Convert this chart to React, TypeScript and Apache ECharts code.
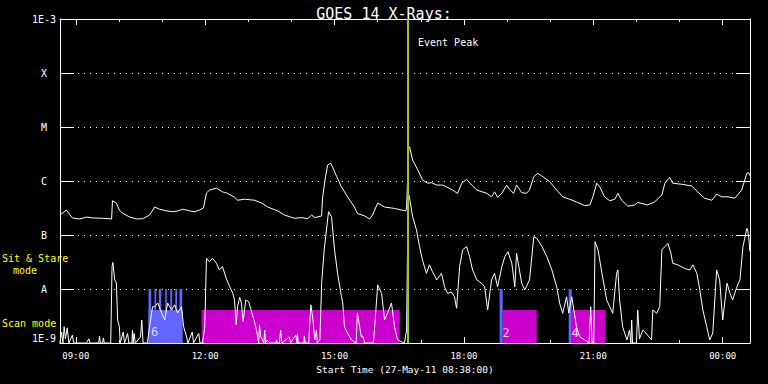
import { useEffect, useRef } from "react";
import * as echarts from "echarts";

const START_HOUR = 8 + 38 / 60;
const END_HOUR = START_HOUR + 16;
const EVENT_PEAK_HOUR = 16.705;
const FLOOR = 1e-9;
const SCAN_TOP = 4.1e-9;
const STARE_TOP = 1e-8;

const yTickLabels = ["1E-9", "A", "B", "C", "M", "X", "1E-3"];
const xLabelHours = [9, 12, 15, 18, 21, 24];
const xMinorHours = [9, 10, 11, 12, 13, 14, 15, 16, 17, 18, 19, 20, 21, 22, 23, 24];

// long channel (upper curve): [hour, flux W/m^2]
const longChannel: [number, number][] = [
  [8.63, 2.34e-7], [8.78, 2.9e-7], [8.92, 2.07e-7], [9.09, 1.98e-7], [9.25, 2.15e-7], [9.39, 2.07e-7],
  [9.62, 2.04e-7], [9.83, 1.98e-7], [9.85, 4.3e-7], [9.94, 3.9e-7], [10.01, 2.9e-7], [10.08, 2.55e-7],
  [10.25, 2.15e-7], [10.41, 1.98e-7], [10.55, 2.0e-7], [10.71, 2.34e-7], [10.83, 3.3e-7], [10.94, 3.0e-7],
  [11.10, 2.8e-7], [11.24, 2.7e-7], [11.36, 2.78e-7], [11.48, 3.0e-7], [11.64, 2.8e-7], [11.75, 2.7e-7],
  [11.87, 2.9e-7], [11.96, 3.16e-7], [12.03, 6.0e-7], [12.10, 6.8e-7], [12.26, 7.4e-7], [12.40, 6.3e-7],
  [12.50, 6.0e-7], [12.68, 5.0e-7], [12.75, 4.4e-7], [12.91, 4.6e-7], [13.15, 4.4e-7], [13.31, 3.9e-7],
  [13.45, 3.3e-7], [13.68, 2.8e-7], [13.84, 2.34e-7], [14.07, 2.04e-7], [14.24, 2.1e-7], [14.37, 2.0e-7],
  [14.47, 2.34e-7], [14.54, 2.1e-7], [14.70, 2.25e-7], [14.72, 4.8e-7], [14.79, 1.2e-6], [14.84, 1.98e-6],
  [14.91, 2.13e-6], [14.95, 1.84e-6], [15.05, 1.2e-6], [15.16, 7.8e-7], [15.30, 5.1e-7], [15.46, 3.3e-7],
  [15.53, 2.5e-7], [15.70, 2.25e-7], [15.81, 1.98e-7], [15.88, 2.34e-7], [16.00, 3.9e-7], [16.16, 3.3e-7],
  [16.39, 3.1e-7], [16.55, 2.9e-7], [16.65, 2.8e-7], [16.67, 3.16e-7], [16.72, 4.08e-6], [16.74, 4.31e-6],
  [16.81, 2.45e-6], [16.93, 1.6e-6], [17.04, 1.04e-6], [17.16, 9.1e-7], [17.25, 9.3e-7], [17.37, 8.4e-7],
  [17.51, 8.4e-7], [17.74, 6.8e-7], [17.85, 5.9e-7], [17.95, 9.1e-7], [18.06, 1.07e-6], [18.18, 8.4e-7],
  [18.30, 6.8e-7], [18.53, 5.9e-7], [18.64, 5.1e-7], [18.71, 6.3e-7], [18.78, 5.0e-7], [18.88, 5.9e-7],
  [18.99, 8.4e-7], [19.06, 7.0e-7], [19.15, 5.9e-7], [19.22, 8.4e-7], [19.34, 6.1e-7], [19.45, 5.9e-7],
  [19.52, 6.8e-7], [19.62, 1.2e-6], [19.71, 1.39e-6], [19.83, 1.2e-6], [19.99, 9.7e-7], [20.15, 6.8e-7],
  [20.29, 5.1e-7], [20.45, 4.6e-7], [20.61, 4.1e-7], [20.80, 3.5e-7], [20.92, 3.6e-7], [20.99, 5.1e-7],
  [21.08, 9.1e-7], [21.15, 7.8e-7], [21.26, 5.1e-7], [21.38, 4.3e-7], [21.50, 4.6e-7], [21.57, 5.9e-7],
  [21.66, 4.4e-7], [21.80, 3.4e-7], [21.96, 3.6e-7], [22.03, 4.0e-7], [22.26, 3.6e-7], [22.42, 4.1e-7],
  [22.59, 5.5e-7], [22.66, 9.1e-7], [22.77, 1.17e-6], [22.84, 9.1e-7], [23.05, 8.7e-7], [23.28, 8.1e-7],
  [23.42, 6.3e-7], [23.58, 4.8e-7], [23.75, 4.4e-7], [23.86, 5.7e-7], [23.98, 5.1e-7], [24.12, 5.1e-7],
  [24.28, 4.8e-7], [24.44, 6.8e-7], [24.56, 1.39e-6], [24.60, 1.43e-6], [24.63, 1.25e-6],
];

// short channel (lower curve): [hour, flux W/m^2]
const shortChannel: [number, number][] = [
  [8.63, 1.0e-9], [8.67, 1.6e-9], [8.70, 1.0e-9], [8.73, 2.0e-9], [8.76, 1.2e-9], [8.80, 1.9e-9],
  [8.84, 1.0e-9], [8.92, 1.4e-9], [8.95, 1.0e-9], [9.25, 1.0e-9], [9.30, 1.2e-9], [9.33, 1.0e-9],
  [9.53, 1.0e-9], [9.55, 1.35e-9], [9.57, 1.0e-9], [9.62, 1.0e-9], [9.64, 1.24e-9], [9.66, 1.0e-9],
  [9.81, 1.0e-9], [9.84, 2.6e-8], [9.86, 3.1e-8], [9.90, 1.5e-8], [9.94, 1.29e-8], [9.97, 2.67e-9],
  [10.01, 2.0e-9], [10.03, 1.0e-9], [10.10, 1.6e-9], [10.13, 1.0e-9], [10.20, 1.5e-9], [10.23, 1.0e-9],
  [10.30, 1.0e-9], [10.315, 1.74e-9], [10.33, 1.0e-9],
  [10.35, 1.5e-9], [10.38, 1.0e-9], [10.50, 1.3e-9], [10.53, 2.67e-9], [10.56, 1.0e-9], [10.66, 1.0e-9],
  [10.71, 2.0e-9], [10.78, 4.7e-9], [10.83, 4.7e-9], [10.90, 5.5e-9], [10.99, 3.6e-9], [11.06, 2.67e-9],
  [11.13, 5.5e-9], [11.22, 4.1e-9], [11.29, 5.1e-9], [11.36, 3.6e-9], [11.45, 4.7e-9], [11.50, 2.0e-9],
  [11.57, 1.29e-9], [11.60, 1.0e-9], [11.70, 1.6e-9], [11.73, 1.0e-9], [11.85, 1.5e-9], [11.88, 1.0e-9],
  [11.94, 1.0e-9], [11.99, 2.0e-9], [12.03, 3.7e-8], [12.10, 3.2e-8], [12.17, 3.7e-8], [12.26, 3.0e-8],
  [12.33, 2.25e-8], [12.40, 2.6e-8], [12.50, 1.47e-8], [12.57, 1.1e-8], [12.64, 8.3e-9], [12.68, 6.25e-9],
  [12.72, 2.2e-9], [12.75, 4.7e-9], [12.80, 7.0e-9], [12.84, 5.5e-9], [12.88, 2.5e-9], [12.94, 6.25e-9],
  [13.01, 5.8e-9], [13.13, 2.67e-9], [13.19, 1.74e-9],
  [13.24, 1.0e-9], [13.26, 2.15e-9], [13.29, 1.3e-9], [13.36, 1.0e-9], [13.38, 1.74e-9], [13.40, 1.0e-9],
  [13.43, 1.14e-9], [13.50, 1.0e-9], [13.64, 1.0e-9], [13.655, 1.14e-9], [13.67, 1.0e-9],
  [13.72, 1.0e-9], [13.75, 1.74e-9], [13.78, 1.0e-9],
  [13.95, 1.3e-9], [13.98, 1.0e-9], [14.10, 1.4e-9], [14.13, 1.0e-9], [14.14, 1.47e-9], [14.16, 1.0e-9],
  [14.29, 1.0e-9], [14.30, 1.35e-9], [14.32, 1.0e-9],
  [14.40, 1.0e-9], [14.45, 5.1e-9],
  [14.50, 2.67e-9], [14.54, 1.14e-9], [14.58, 1.74e-9], [14.60, 1.0e-9], [14.66, 1.14e-9], [14.70, 1.28e-8],
  [14.76, 5.3e-8], [14.86, 2.7e-7],
  [14.93, 2.18e-7], [15.00, 5.3e-8], [15.07, 1.95e-8], [15.16, 7.2e-9], [15.19, 5.5e-9], [15.23, 2.0e-9],
  [15.30, 1.53e-9], [15.39, 1.14e-9], [15.50, 1.0e-9], [15.53, 3.6e-9], [15.62, 1.3e-9], [15.65, 1.35e-9],
  [15.70, 1.0e-9],
  [15.90, 1.0e-9], [15.93, 2.0e-9], [16.00, 1.19e-8], [16.09, 8.3e-9], [16.16, 2.67e-9], [16.23, 3.6e-9],
  [16.32, 5.5e-9], [16.39, 2.0e-9], [16.46, 1.14e-9], [16.62, 1.0e-9], [16.67, 1.74e-9], [16.70, 2.0e-7],
  [16.72, 5.5e-7], [16.74, 4.8e-7], [16.81, 2.18e-7], [16.90, 1.24e-7], [16.97, 6.1e-8], [17.04, 3.4e-8],
  [17.13, 1.95e-8], [17.20, 2.8e-8], [17.27, 2.1e-8], [17.37, 1.47e-8], [17.48, 1.95e-8], [17.55, 1.1e-8],
  [17.62, 8.3e-9], [17.71, 8.8e-9], [17.78, 7.2e-9], [17.83, 4.4e-9], [17.90, 2.6e-8], [17.97, 5.3e-8],
  [18.06, 6.1e-8], [18.13, 4.0e-8], [18.20, 2.25e-8], [18.30, 1.47e-8], [18.41, 1.28e-8], [18.48, 1.1e-8],
  [18.55, 4.1e-9], [18.64, 1.47e-8], [18.71, 1.95e-8], [18.78, 1.1e-8], [18.88, 2.6e-8], [18.95, 4.0e-8],
  [19.02, 4.9e-8], [19.11, 3.0e-8], [19.18, 1.1e-8], [19.22, 4.6e-8], [19.34, 1.28e-8], [19.41, 9.6e-9],
  [19.52, 1.47e-8], [19.62, 9.3e-8], [19.69, 8.7e-8], [19.81, 6.1e-8], [19.92, 4.0e-8], [20.04, 2.25e-8],
  [20.15, 1.1e-8], [20.22, 5.45e-9], [20.29, 3.55e-9], [20.38, 7.2e-9], [20.43, 3.6e-9], [20.50, 7.2e-9],
  [20.61, 2.0e-9], [20.68, 1.31e-9], [20.80, 1.14e-9], [20.90, 1.0e-9], [20.94, 4.7e-9], [20.97, 1.0e-9],
  [21.01, 1.0e-9], [21.04, 7.5e-8], [21.11, 5.3e-8], [21.20, 1.95e-8], [21.31, 6.25e-9], [21.38, 4.7e-9],
  [21.45, 3.55e-9], [21.54, 1.95e-8], [21.57, 2.25e-8], [21.61, 6.25e-9], [21.68, 2.0e-9], [21.78, 1.14e-9],
  [21.84, 1.74e-9], [21.87, 1.0e-9], [21.89, 2.67e-9], [21.91, 1.0e-9], [22.00, 1.0e-9], [22.03, 4.1e-9],
  [22.07, 1.2e-9], [22.15, 1.74e-9],
  [22.19, 1.62e-9], [22.35, 1.14e-9], [22.38, 4.1e-9], [22.47, 3.55e-9], [22.54, 4.7e-9], [22.59, 5.3e-8],
  [22.66, 6.1e-8], [22.73, 7.0e-8], [22.80, 4.6e-8], [22.84, 3.0e-8], [22.96, 2.8e-8], [23.12, 2.4e-8],
  [23.24, 2.25e-8], [23.31, 2.8e-8], [23.40, 1.95e-8], [23.47, 9.6e-9], [23.54, 4.1e-9], [23.63, 2.0e-9],
  [23.70, 1.14e-9], [23.77, 1.53e-9], [23.86, 2.25e-8], [23.93, 1.47e-8], [24.00, 2.67e-9], [24.10, 1.28e-8],
  [24.17, 8.3e-9], [24.23, 6.25e-9], [24.33, 1.1e-8], [24.40, 1.47e-8], [24.47, 6.1e-8], [24.56, 1.33e-7],
  [24.58, 1.24e-7], [24.61, 8.1e-8], [24.63, 5.0e-8],
];

// SXI scan-mode intervals (magenta) [start hour, end hour]
const scanBlocks: [number, number][] = [
  [11.916, 16.508], [18.898, 19.687], [20.498, 21.287],
];
// sit & stare fill (blue, low) and bars (blue, tall)
const stareFill: [number, number][] = [[10.686, 11.475]];
const stareBars: [number, number][] = [
  [10.686, 10.749], [10.825, 10.865], [10.925, 10.981], [11.074, 11.111], [11.19, 11.236],
  [11.306, 11.352], [11.405, 11.468], [18.828, 18.898], [20.429, 20.498],
];
// sequence glyphs [hour, flux, text]
const sequenceMarks: [number, number, string][] = [
  [10.826, 1.6e-9, "6"], [18.98, 1.53e-9, "2"], [20.575, 1.53e-9, "4"],
];

const MONO = "'DejaVu Sans Mono', monospace";

const rectRender = (color: string) => (params: any, api: any) => {
  const s = api.value(0);
  const e = api.value(1);
  const top = api.value(2);
  const p0 = api.coord([s, top]);
  const p1 = api.coord([e, FLOOR]);
  return {
    type: "rect",
    shape: { x: p0[0], y: p0[1], width: p1[0] - p0[0], height: p1[1] - p0[1] },
    style: { fill: color },
  };
};

const fmtHour = (v: number) => {
  const h = Math.round(v) % 24;
  return (h < 10 ? "0" : "") + h + ":00";
};

export default function App() {
  const ref = useRef<HTMLDivElement>(null);
  useEffect(() => {
    if (!ref.current) return;
    const chart = echarts.init(ref.current, null, { renderer: "svg" });
    const white = "#ffffff";
    const baseX = {
      type: "value",
      min: START_HOUR,
      max: END_HOUR,
      splitLine: { show: false },
    };
    const baseY = {
      type: "log",
      logBase: 10,
      min: 1e-9,
      max: 1e-3,
    };
    chart.setOption({
      animation: false,
      backgroundColor: "#000000",
      title: {
        text: "GOES 14 X-Rays:",
        left: "center",
        top: 1,
        textStyle: { color: white, fontFamily: MONO, fontSize: 15, fontWeight: "normal" },
      },
      grid: { left: 60, right: 18, top: 19, bottom: 41 },
      xAxis: [
        {
          ...baseX,
          position: "bottom",
          axisLine: { show: true, lineStyle: { color: white, width: 1 } },
          axisTick: { show: true, inside: true, length: 6, customValues: xLabelHours, lineStyle: { color: white } },
          axisLabel: {
            show: true, customValues: xLabelHours, formatter: fmtHour, color: white,
            fontFamily: MONO, fontSize: 9, margin: 8,
          },
          name: "Start Time (27-May-11 08:38:00)",
          nameLocation: "middle",
          nameGap: 20,
          nameTextStyle: { color: white, fontFamily: MONO, fontSize: 9.5 },
        },
        {
          ...baseX,
          position: "bottom",
          axisLine: { show: false },
          axisTick: { show: true, inside: true, length: 3, customValues: xMinorHours, lineStyle: { color: white } },
          axisLabel: { show: false, customValues: xMinorHours },
        },
        {
          ...baseX,
          position: "top",
          axisLine: { show: true, lineStyle: { color: white, width: 1 } },
          axisTick: { show: true, inside: true, length: 6, customValues: xLabelHours, lineStyle: { color: white } },
          axisLabel: { show: false, customValues: xLabelHours },
        },
        {
          ...baseX,
          position: "top",
          axisLine: { show: false },
          axisTick: { show: true, inside: true, length: 3, customValues: xMinorHours, lineStyle: { color: white } },
          axisLabel: { show: false, customValues: xMinorHours },
        },
      ],
      yAxis: [
        {
          ...baseY,
          position: "left",
          axisLine: { show: true, lineStyle: { color: white, width: 1 } },
          axisTick: { show: true, inside: true, length: 14, lineStyle: { color: white } },
          axisLabel: {
            color: white,
            fontFamily: MONO,
            fontSize: 10,
            align: "center",
            margin: 16,
            verticalAlignMinLabel: "bottom",
            verticalAlignMaxLabel: "top",
            formatter: (v: number) => yTickLabels[Math.round(Math.log10(v)) + 9] ?? "",
          },
          splitLine: { show: true, lineStyle: { color: white, width: 1, type: [1, 5] } },
        },
        {
          ...baseY,
          position: "right",
          axisLine: { show: true, lineStyle: { color: white, width: 1 } },
          axisTick: { show: true, inside: true, length: 14, lineStyle: { color: white } },
          axisLabel: { show: false },
          splitLine: { show: false },
        },
      ],
      graphic: [
        { type: "text", left: 418, top: 37, style: { text: "Event Peak", fill: white, font: `10px ${MONO}` } },
        { type: "text", left: 2, top: 253, style: { text: "Sit & Stare", fill: "#ffff00", font: `10px ${MONO}` } },
        { type: "text", left: 13, top: 265, style: { text: "mode", fill: "#ffff00", font: `10px ${MONO}` } },
        { type: "text", left: 2, top: 318, style: { text: "Scan mode", fill: "#ffff00", font: `10px ${MONO}` } },
      ],
      series: [
        {
          type: "custom",
          name: "scan",
          xAxisIndex: 0,
          yAxisIndex: 0,
          z: 1,
          silent: true,
          renderItem: rectRender("#cc00cc"),
          encode: { x: [0, 1], y: 2 },
          data: scanBlocks.map(([s, e]) => [s, e, SCAN_TOP]),
        },
        {
          type: "custom",
          name: "stare",
          xAxisIndex: 0,
          yAxisIndex: 0,
          z: 1,
          silent: true,
          renderItem: rectRender("#6464ff"),
          encode: { x: [0, 1], y: 2 },
          data: [
            ...stareFill.map(([s, e]) => [s, e, SCAN_TOP]),
            ...stareBars.map(([s, e]) => [s, e, STARE_TOP]),
          ],
        },
        {
          type: "line",
          name: "long",
          xAxisIndex: 0,
          yAxisIndex: 0,
          z: 3,
          showSymbol: false,
          symbol: "none",
          lineStyle: { color: white, width: 1 },
          data: longChannel,
          markLine: {
            silent: true,
            symbol: ["none", "none"],
            label: { show: false },
            lineStyle: { color: "#99cc00", width: 2, type: "solid" },
            data: [{ xAxis: EVENT_PEAK_HOUR }],
          },
        },
        {
          type: "line",
          name: "short",
          xAxisIndex: 0,
          yAxisIndex: 0,
          z: 3,
          showSymbol: false,
          symbol: "none",
          lineStyle: { color: white, width: 1 },
          data: shortChannel,
        },
        {
          type: "scatter",
          name: "seq",
          xAxisIndex: 0,
          yAxisIndex: 0,
          z: 4,
          symbolSize: 0,
          silent: true,
          label: {
            show: true,
            position: "inside",
            color: white,
            fontFamily: MONO,
            fontSize: 12,
            formatter: (p: any) => p.data[2],
          },
          data: sequenceMarks,
        },
      ],
    });
    return () => chart.dispose();
  }, []);
  return (
    <div
      ref={ref}
      style={{ position: "fixed", left: 0, top: 0, width: 768, height: 384, background: "#000" }}
    />
  );
}
